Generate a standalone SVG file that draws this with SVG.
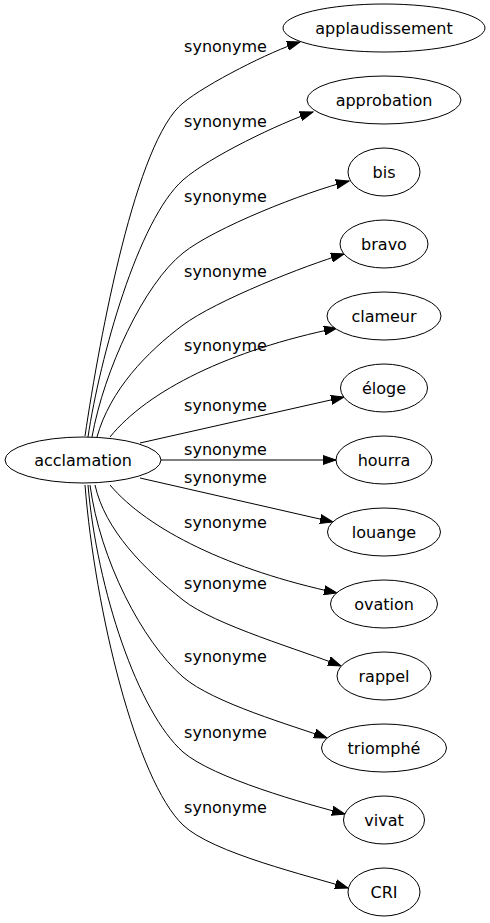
<svg xmlns="http://www.w3.org/2000/svg" width="490" height="923" viewBox="0 0 490 923">
<style>
.n ellipse{fill:#fff;stroke:#000;stroke-width:1}
text{font-family:"DejaVu Sans",sans-serif;font-size:16px;fill:#000;text-anchor:middle}
.e path{fill:none;stroke:#000;stroke-width:1;marker-end:url(#ah)}
</style>
<defs>
<marker id="ah" markerUnits="userSpaceOnUse" markerWidth="14" markerHeight="10" viewBox="0 -5 14 10" refX="13" refY="0" orient="auto">
<path d="M0,-4.5 L13,0 L0,4.5 z" fill="#000" stroke="#000" stroke-width="1"/>
</marker>
</defs>
<rect width="490" height="923" fill="#fff"/>
<g class="e" id="edges">
<path d="M85,436 C100,335 136,141 183,103 C206,84 271,51 300,42"/>
<path d="M88,437 C100,357 138,220 183,180 C209,157 280,123 313,112"/>
<path d="M92,437 C104,370 144,284 183,253 C214,228 305,192 349,181"/>
<path d="M97,437 C110,390 147,352 183,325 C215,301 306,265 344,254"/>
<path d="M110,437 C148,390 230,350 337,328"/>
<path d="M140,443 L344,397"/>
<path d="M161,460 L336,460"/>
<path d="M140,478 L333,522"/>
<path d="M110,485 C148,530 230,570 337,593"/>
<path d="M95,485 C105,530 144,569 183,600 C214,625 304,651 341,666"/>
<path d="M90,485 C100,560 142,641 183,677 C213,703 294,726 327,738"/>
<path d="M88,485 C97,590 138,712 183,752 C213,778 306,804 345,814"/>
<path d="M85,485 C95,610 136,780 183,825 C212,853 310,876 348,888"/>
<text x="225.5" y="52">synonyme</text>
<text x="225.5" y="127">synonyme</text>
<text x="225.5" y="202">synonyme</text>
<text x="225.5" y="277">synonyme</text>
<text x="225.5" y="351">synonyme</text>
<text x="225.5" y="411">synonyme</text>
<text x="225.5" y="455">synonyme</text>
<text x="225.5" y="483">synonyme</text>
<text x="225.5" y="528">synonyme</text>
<text x="225.5" y="589">synonyme</text>
<text x="225.5" y="662">synonyme</text>
<text x="225.5" y="738">synonyme</text>
<text x="225.5" y="813">synonyme</text>
</g>
<g class="n" id="acclamation"><ellipse cx="83" cy="460" rx="78" ry="23"/><text x="83" y="465.5">acclamation</text></g>
<g class="n" id="applaudissement"><ellipse cx="384" cy="28" rx="101" ry="24"/><text x="384" y="33.5">applaudissement</text></g>
<g class="n" id="approbation"><ellipse cx="384" cy="100" rx="77" ry="24"/><text x="384" y="105.5">approbation</text></g>
<g class="n" id="bis"><ellipse cx="384" cy="172" rx="36" ry="24"/><text x="384" y="177.5">bis</text></g>
<g class="n" id="bravo"><ellipse cx="384" cy="244" rx="44" ry="24"/><text x="384" y="249.5">bravo</text></g>
<g class="n" id="clameur"><ellipse cx="384" cy="316" rx="57" ry="24"/><text x="384" y="321.5">clameur</text></g>
<g class="n" id="eloge"><ellipse cx="384" cy="388" rx="43.5" ry="24"/><text x="384" y="393.5">éloge</text></g>
<g class="n" id="hourra"><ellipse cx="384" cy="460" rx="48" ry="24"/><text x="384" y="465.5">hourra</text></g>
<g class="n" id="louange"><ellipse cx="384" cy="532" rx="56.5" ry="24"/><text x="384" y="537.5">louange</text></g>
<g class="n" id="ovation"><ellipse cx="384" cy="604" rx="53.5" ry="24"/><text x="384" y="609.5">ovation</text></g>
<g class="n" id="rappel"><ellipse cx="384" cy="676" rx="47" ry="24"/><text x="384" y="681.5">rappel</text></g>
<g class="n" id="triomphe"><ellipse cx="384" cy="748" rx="62.5" ry="24"/><text x="384" y="753.5">triomphé</text></g>
<g class="n" id="vivat"><ellipse cx="384" cy="820" rx="40.5" ry="24"/><text x="384" y="825.5">vivat</text></g>
<g class="n" id="CRI"><ellipse cx="384" cy="892" rx="36" ry="24"/><text x="384" y="897.5">CRI</text></g>
</svg>
